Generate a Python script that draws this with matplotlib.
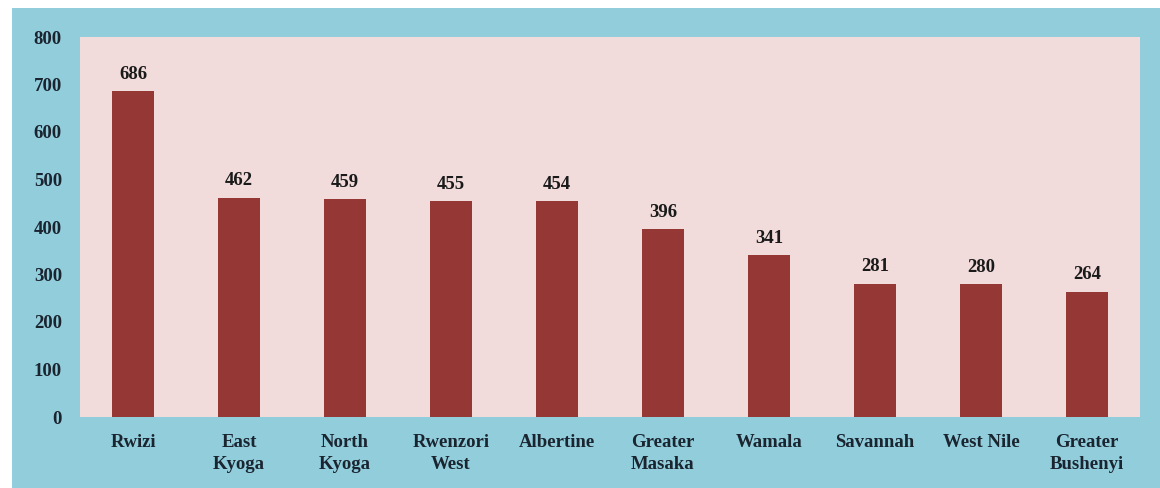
import matplotlib.pyplot as plt
from matplotlib.patches import Rectangle

regions = ["Rwizi", "East\nKyoga", "North\nKyoga", "Rwenzori\nWest", "Albertine",
           "Greater\nMasaka", "Wamala", "Savannah", "West Nile", "Greater\nBushenyi"]
values = [686, 462, 459, 455, 454, 396, 341, 281, 280, 264]
yticks = [0, 100, 200, 300, 400, 500, 600, 700, 800]

plt.rcParams["font.family"] = ["Liberation Serif", "DejaVu Serif"]
plt.rcParams["font.weight"] = "bold"

fig = plt.figure(figsize=(11.6, 4.88), dpi=100, facecolor="white")
# light blue chart area behind the plot
bg = Rectangle((12 / 1160, 0), 1 - 12 / 1160, 1 - 8 / 488,
               transform=fig.transFigure, facecolor="#92CDDC",
               edgecolor="none", zorder=-10)
fig.add_artist(bg)

ax = fig.add_axes([80 / 1160, 71 / 488, 1060 / 1160, 380 / 488])
ax.set_zorder(1)
ax.set_facecolor("#F2DCDB")

x = range(len(regions))
bars = ax.bar(x, values, width=0.4, color="#953735", zorder=2)
for xi, v in zip(x, values):
    ax.annotate(str(v), (xi, v), xytext=(0, 6), textcoords="offset points",
                ha="center", va="bottom", fontsize=13.5, fontweight="bold", color="#1a1a1a")

ax.set_xlim(-0.5, len(regions) - 0.5)
ax.set_ylim(0, 800)
ax.set_yticks(yticks)
ax.set_yticklabels([str(t) for t in yticks], fontsize=13.5, fontweight="bold", color="#1a2530")
ax.set_xticks(list(x))
ax.set_xticklabels(regions, fontsize=13.5, fontweight="bold", color="#1a2530",
                   linespacing=1.4, va="top")
ax.tick_params(axis="both", length=0)
ax.tick_params(axis="x", pad=12)
ax.tick_params(axis="y", pad=13)
for s in ax.spines.values():
    s.set_visible(False)

fig.savefig("out.png", dpi=100, facecolor="white")
